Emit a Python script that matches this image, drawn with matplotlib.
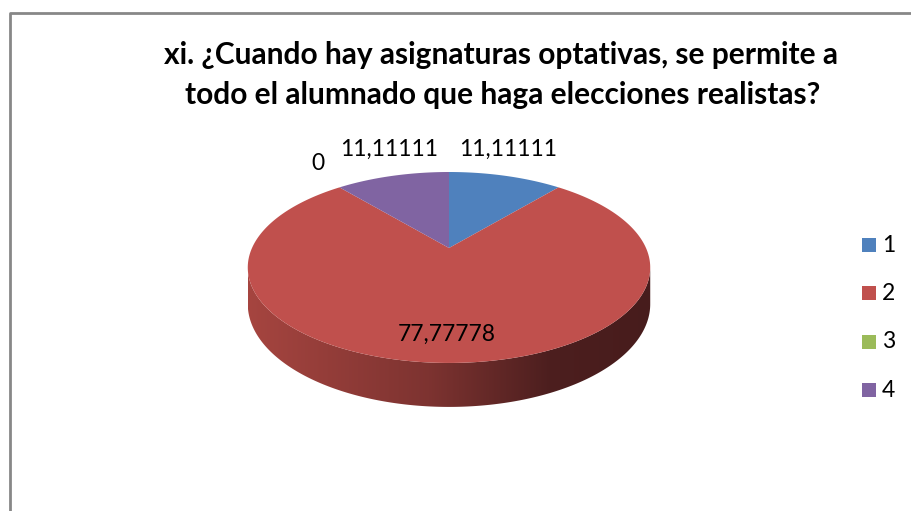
import numpy as np
import matplotlib.pyplot as plt
from matplotlib.patches import Polygon, Rectangle

# survey answers (percent) for each option
categories = ['1', '2', '3', '4']
values = [11.11111, 77.77778, 0, 11.11111]
colors = ['#4F81BD', '#C0504D', '#9BBB59', '#8064A2']

title_lines = ['xi. ¿Cuando hay asignaturas optativas, se permite a',
               'todo el alumnado que haga elecciones realistas?']

# label anchor points (pixels) for each slice value
label_pos = [(508, 149), (447, 334), (318, 163), (389, 149)]

plt.rcParams['font.family'] = ['Lato', 'DejaVu Sans']

fig = plt.figure(figsize=(9.11, 5.11), dpi=100)
ax = fig.add_axes([0, 0, 1, 1])
ax.set_xlim(0, 911)
ax.set_ylim(511, 0)
ax.axis('off')

# chart border
ax.plot([9.5, 9.5, 911], [511, 13.5, 13.5], color='#878787', lw=2, solid_capstyle='butt')

ax.text(501, 55, title_lines[0], ha='center', va='center', fontsize=21.5, fontweight='bold')
ax.text(503, 95, title_lines[1], ha='center', va='center', fontsize=21.5, fontweight='bold')

# pie geometry: tilted disc with a bit of perspective (back edge farther away)
cx, cy = 449, 248
a, b, k = 197, 91.5, 0.204
depth0 = 35


def proj(theta_deg, drop=0.0):
    t = np.radians(theta_deg)
    v = np.cos(t)
    s = 1.0 / (1.0 + k * v)
    return cx + a * np.sin(t) * s, cy - b * v * s + drop * s


# side wall of the front half, shaded left to right
edge = np.degrees(np.arccos(-k))
th = np.linspace(edge, 360 - edge, 240)
top_x, top_y = proj(th)
bot_x, bot_y = proj(th, depth0)
side = np.concatenate([np.column_stack([top_x, top_y]),
                       np.column_stack([bot_x[::-1], bot_y[::-1]])])
side_patch = Polygon(side, closed=True, facecolor='none', edgecolor='none')
ax.add_patch(side_patch)
grad = np.linspace(0, 1, 256)[:, None]
stops = [0.0, 0.45, 0.75, 1.0]
shades = np.array([[0.65, 0.27, 0.25],
                   [0.49, 0.20, 0.19],
                   [0.30, 0.12, 0.12],
                   [0.28, 0.11, 0.11]])
rgb = np.column_stack([np.interp(grad[:, 0], stops, shades[:, i]) for i in range(3)])
img = ax.imshow(rgb[None, :, :], extent=(top_x.min(), top_x.max(), bot_y.max() + 2, top_y.min() - 2),
                aspect='auto', zorder=1)
img.set_clip_path(side_patch)

# top face slices, clockwise from 12 o'clock
total = sum(values)
start = 0.0
for v, col in zip(values, colors):
    sweep = 360.0 * v / total
    if sweep > 0:
        ang = np.linspace(start, start + sweep, max(int(sweep), 2) + 1)
        px, py = proj(ang)
        pts = np.vstack([[(cx, cy)], np.column_stack([px, py])])
        ax.add_patch(Polygon(pts, closed=True, facecolor=col, edgecolor='none', zorder=2))
    start += sweep

# value labels
for v, (lx, ly) in zip(values, label_pos):
    txt = f'{v:.7g}'.replace('.', ',')
    ax.text(lx, ly, txt, ha='center', va='center', fontsize=16.5, color='black', zorder=3)

# legend
for i, (cat, col) in enumerate(zip(categories, colors)):
    y = 245 + i * 48.5
    ax.add_patch(Rectangle((862, y - 7), 14, 14, facecolor=col, edgecolor='none'))
    ax.text(882, y, cat, ha='left', va='center', fontsize=16.5)

fig.savefig('out.png', dpi=100)
